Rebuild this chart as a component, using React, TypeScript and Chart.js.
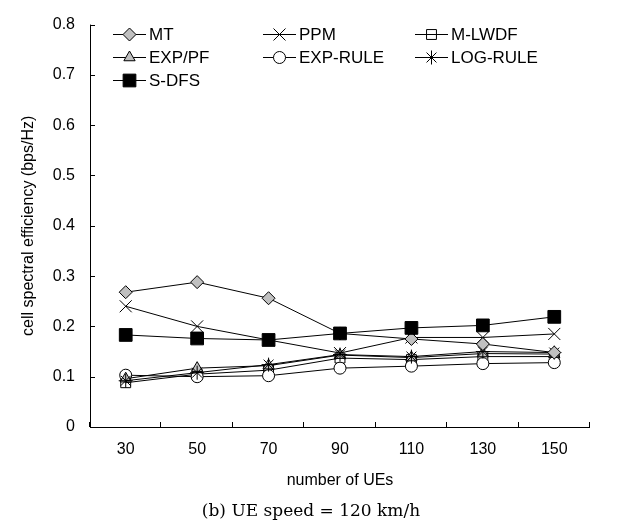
import React, { useEffect, useRef } from "react";
import { Chart, registerables } from "chart.js";
import { drawPoint } from "chart.js/helpers";

Chart.register(...registerables);

const categories = ["30", "50", "70", "90", "110", "130", "150"];
const seriesNames = ["MT", "PPM", "M-LWDF", "EXP/PF", "EXP-RULE", "LOG-RULE", "S-DFS"];
const mtValues = [0.268, 0.288, 0.256, 0.186, 0.175, 0.165, 0.148];
const ppmValues = [0.24, 0.2, 0.173, 0.147, 0.178, 0.178, 0.185];
const mlwdfValues = [0.088, 0.105, 0.113, 0.137, 0.134, 0.14, 0.14];
const exppfValues = [0.096, 0.117, 0.122, 0.143, 0.138, 0.146, 0.145];
const expruleValues = [0.103, 0.1, 0.102, 0.117, 0.121, 0.126, 0.128];
const logruleValues = [0.092, 0.108, 0.124, 0.144, 0.14, 0.15, 0.148];
const sdfsValues = [0.183, 0.176, 0.173, 0.186, 0.197, 0.202, 0.219];
const yTickValues = [0, 0.1, 0.2, 0.3, 0.4, 0.5, 0.6, 0.7, 0.8];
const captionText = "(b) UE speed = 120 km/h";

const FONT = "'Liberation Sans', Arial, sans-serif";

type Style = { pointStyle: string; radius: number; fill: string; order: number };
const styles: Style[] = [
  { pointStyle: "rectRot", radius: 6.5, fill: "#c0c0c0", order: 1 },
  { pointStyle: "crossRot", radius: 8.5, fill: "rgba(0,0,0,0)", order: 2 },
  { pointStyle: "rect", radius: 7, fill: "rgba(255,255,255,0)", order: 6 },
  { pointStyle: "triangle", radius: 6.5, fill: "#c0c0c0", order: 4 },
  { pointStyle: "circle", radius: 6, fill: "#ffffff", order: 5 },
  { pointStyle: "star", radius: 7, fill: "rgba(0,0,0,0)", order: 3 },
  { pointStyle: "rect", radius: 9, fill: "#000000", order: 0 },
];
const allValues = [mtValues, ppmValues, mlwdfValues, exppfValues, expruleValues, logruleValues, sdfsValues];

const legendCols = [113, 263, 415];
const legendRows = [34, 57, 80];

const axesPlugin = {
  id: "axesTicks",
  afterDatasetsDraw(chart: any) {
    const { ctx, chartArea, scales } = chart;
    const x = scales.x;
    const y = scales.y;
    ctx.save();
    ctx.strokeStyle = "#000";
    ctx.lineWidth = 1;
    ctx.beginPath();
    ctx.moveTo(chartArea.left + 0.5, chartArea.top);
    ctx.lineTo(chartArea.left + 0.5, chartArea.bottom + 0.5);
    ctx.lineTo(chartArea.right, chartArea.bottom + 0.5);
    for (const v of yTickValues) {
      const py = Math.round(y.getPixelForValue(v)) + 0.5;
      ctx.moveTo(chartArea.left, py);
      ctx.lineTo(chartArea.left + 5, py);
    }
    for (let i = 0; i <= categories.length; i++) {
      const px = Math.round(x.getPixelForValue(i - 0.5)) - 0.5;
      ctx.moveTo(px, chartArea.bottom);
      ctx.lineTo(px, chartArea.bottom - 5);
    }
    ctx.stroke();
    ctx.restore();
  },
};

const legendPlugin = {
  id: "customLegend",
  afterDraw(chart: any) {
    const ctx = chart.ctx;
    ctx.save();
    seriesNames.forEach((name, i) => {
      const col = i % 3;
      const row = Math.floor(i / 3);
      const x0 = legendCols[col];
      const yy = legendRows[row];
      const st = styles[i];
      ctx.strokeStyle = "#000";
      ctx.lineWidth = 1;
      ctx.beginPath();
      ctx.moveTo(x0, yy + 0.5);
      ctx.lineTo(x0 + 33, yy + 0.5);
      ctx.stroke();
      ctx.fillStyle = st.fill;
      ctx.strokeStyle = "#000";
      ctx.lineWidth = 1;
      drawPoint(ctx, { pointStyle: st.pointStyle, radius: st.radius, rotation: 0, borderWidth: 1 } as any, x0 + 16.5, yy + 0.5);
      ctx.fillStyle = "#000";
      ctx.font = `17px ${FONT}`;
      ctx.textBaseline = "middle";
      ctx.textAlign = "left";
      ctx.fillText(name, x0 + 36, yy + 1);
    });
    // caption
    ctx.fillStyle = "#000";
    ctx.font = "17px 'DejaVu Serif', serif";
    ctx.textAlign = "center";
    ctx.textBaseline = "middle";
    ctx.fillText(captionText, 311, 512);
    ctx.restore();
  },
};

export default function App() {
  const ref = useRef<HTMLCanvasElement | null>(null);
  useEffect(() => {
    document.body.style.margin = "0";
    const canvas = ref.current;
    if (!canvas) return;
    const chart = new Chart(canvas, {
      type: "line",
      data: {
        labels: categories,
        datasets: seriesNames.map((name, i) => ({
          label: name,
          data: allValues[i],
          order: styles[i].order,
          borderColor: "#000",
          borderWidth: 1,
          backgroundColor: styles[i].fill,
          pointStyle: styles[i].pointStyle as any,
          pointRadius: styles[i].radius,
          pointBorderColor: "#000",
          pointBackgroundColor: styles[i].fill,
          pointBorderWidth: 1,
          fill: false,
          tension: 0,
        })),
      },
      options: {
        animation: false,
        responsive: false,
        layout: { padding: { top: 18, right: 36, left: 0, bottom: 36.4 } },
        plugins: {
          legend: { display: false },
          tooltip: { enabled: false },
          title: { display: false },
        },
        scales: {
          x: {
            type: "category",
            offset: true,
            grid: { display: false, drawTicks: false },
            border: { display: false },
            ticks: { color: "#000", font: { family: FONT, size: 16 }, padding: 13, maxRotation: 0 },
            title: {
              display: true,
              text: "number of UEs",
              color: "#000",
              font: { family: FONT, size: 16 },
              padding: { top: 0, bottom: 0 },
            },
            afterFit: (s: any) => {
              s.height = 63.6;
            },
          },
          y: {
            min: 0,
            max: 0.8,
            grid: { display: false, drawTicks: false },
            border: { display: false },
            ticks: {
              stepSize: 0.1,
              color: "#000",
              font: { family: FONT, size: 16 },
              padding: 15,
              callback: (v: any) => (Number(v) === 0 ? "0" : Number(v).toFixed(1)),
            },
            title: {
              display: true,
              text: "cell spectral efficiency (bps/Hz)",
              color: "#000",
              font: { family: FONT, size: 16 },
              padding: { top: 19, bottom: 0 },
            },
            afterFit: (s: any) => {
              s.width = 90;
            },
          },
        },
      },
      plugins: [axesPlugin, legendPlugin],
    });
    return () => chart.destroy();
  }, []);
  return <canvas ref={ref} width={626} height={527} style={{ display: "block" }} />;
}
